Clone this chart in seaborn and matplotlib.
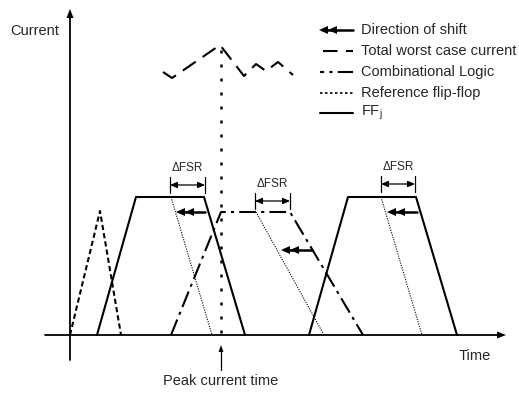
import matplotlib
matplotlib.use("Agg")
import matplotlib.pyplot as plt
import seaborn as sns
import pandas as pd

sns.set_theme(style="white")
plt.rcParams['font.family'] = ['Liberation Sans', 'DejaVu Sans']

# ---- data (schematic, pixel-like units; y grows downward) ----
ref_ff_x = [70, 100, 121]
ref_ff_y = [335, 211, 335]

ffj1_x = [97, 136, 204, 245]
ffj1_y = [335, 197, 197, 335]
ffj2_x = [309, 348, 416, 457]
ffj2_y = [335, 197, 197, 335]

comb_x = [171, 221, 290, 363]
comb_y = [335, 212, 212, 335]

total_x = [163, 172, 220, 244, 256, 266, 278, 293]
total_y = [72, 78, 45, 76, 64, 71, 62, 75]

shift_lines_x = [[171, 212], [256, 324], [381, 422]]
shift_lines_y = [[197, 335], [212, 335], [197, 335]]

fsr_x0 = [170, 255, 381]
fsr_x1 = [205, 290, 415]
fsr_y = [185, 201, 184]

arrow_start = [205, 312, 417]
arrow_tip = [176, 281, 387]
arrow_y = [212, 250, 212]

peak_time = 221

legend_labels = ["Direction of shift", "Total worst case current",
                 "Combinational Logic", "Reference flip-flop", "FF$_\\mathregular{j}$"]
legend_y = [30, 51, 72, 93, 113]

fig = plt.figure(figsize=(5.19, 3.93), dpi=100)
ax = fig.add_axes([0, 0, 1, 1])
ax.set_xlim(0, 519)
ax.set_ylim(393, 0)
ax.axis("off")

K = "black"


def poly(x, y, **kw):
    df = pd.DataFrame({"x": x, "y": y})
    sns.lineplot(data=df, x="x", y="y", sort=False, estimator=None, ax=ax,
                 color=K, legend=False, **kw)


def head(tx, ty, direction, length=8, half=3.5):
    if direction == "left":
        pts = [(tx, ty), (tx + length, ty - half), (tx + length, ty + half)]
    elif direction == "right":
        pts = [(tx, ty), (tx - length, ty - half), (tx - length, ty + half)]
    else:
        pts = [(tx, ty), (tx - half, ty + length), (tx + half, ty + length)]
    ax.fill([p[0] for p in pts], [p[1] for p in pts], color=K, lw=0)


def shift_arrow(x0, x1, y):
    poly([x0, x1 + 4], [y, y], linewidth=1.8)
    head(x1, y, "left", 9, 4)
    head(x1 + 9, y, "left", 9, 4)


# axes
poly([70, 70], [16, 360], linewidth=1.3)
head(70, 9, "up", 9, 3.5)
poly([45, 499], [335, 335], linewidth=1.3)
head(506, 335, "right", 9, 3.5)
ax.text(10, 31, "Current", fontsize=10.5, va="center", ha="left")
ax.text(459, 356, "Time", fontsize=10.5, va="center", ha="left")

# peak current time marker
poly([peak_time, peak_time], [352, 370], linewidth=0.9)
head(peak_time, 345, "up", 7, 2.5)
ax.text(peak_time, 381, "Peak current time", fontsize=10.5, va="center", ha="center")
poly([peak_time, peak_time], [50, 335], linewidth=1.8, linestyle=(0, (1.2, 4.4)))

# curves
poly(ref_ff_x, ref_ff_y, linewidth=1.5, linestyle=(0, (2.5, 1.5)))
poly(ffj1_x, ffj1_y, linewidth=1.5)
poly(ffj2_x, ffj2_y, linewidth=1.5)
poly(comb_x, comb_y, linewidth=1.5, linestyle=(0, (8, 2.5, 1.5, 2.5)))
poly(total_x, total_y, linewidth=1.5, linestyle=(0, (7.5, 4)))
for sx, sy in zip(shift_lines_x, shift_lines_y):
    poly(sx, sy, linewidth=0.8, linestyle=(0, (1, 1.2)))

# delta FSR brackets
for x0, x1, y in zip(fsr_x0, fsr_x1, fsr_y):
    ax.annotate("", xy=(x0, y), xytext=(x1, y),
                arrowprops=dict(arrowstyle="<|-|>,head_length=0.35,head_width=0.15",
                                color=K, lw=0.9, shrinkA=0, shrinkB=0))
    poly([x0, x0], [y - 8, y + 8], linewidth=0.9)
    poly([x1, x1], [y - 8, y + 8], linewidth=0.9)
    ax.text((x0 + x1) / 2, y - 17, "\u0394FSR", fontsize=8.5, ha="center", va="center")

# direction-of-shift arrows
for x0, x1, y in zip(arrow_start, arrow_tip, arrow_y):
    shift_arrow(x0, x1, y)

# legend
lx0, lx1, tx = 320, 353, 361
shift_arrow(lx1, lx0 - 1, legend_y[0])
poly([lx0 + 3, lx1], [legend_y[1]] * 2, linewidth=1.5, linestyle=(0, (7, 4)))
poly([lx0, lx1], [legend_y[2]] * 2, linewidth=1.5, linestyle=(0, (2, 2.5, 1.5, 2.5, 30, 1)))
poly([lx0, lx1], [legend_y[3]] * 2, linewidth=1.2, linestyle=(0, (1.5, 1.5)))
poly([lx0, lx1], [legend_y[4]] * 2, linewidth=1.5)
for lab, y in zip(legend_labels, legend_y):
    ax.text(tx, y, lab, fontsize=10.5, va="center", ha="left")

fig.savefig("out.png", dpi=100)
